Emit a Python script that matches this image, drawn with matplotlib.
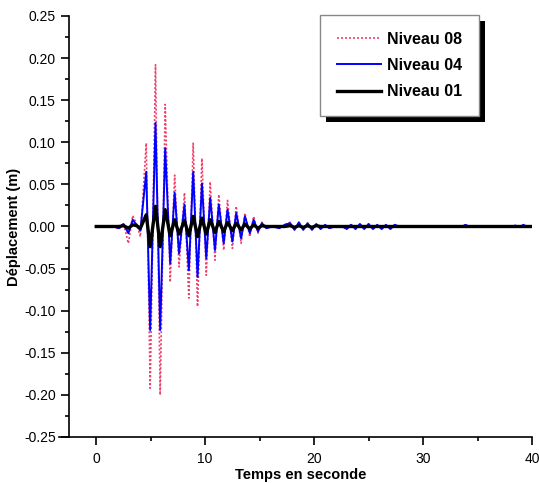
import matplotlib
matplotlib.use("Agg")
import matplotlib.pyplot as plt
from matplotlib.ticker import MultipleLocator, FormatStrFormatter
from matplotlib.patches import Rectangle

# Extrema (time in s, displacement in m)
time_s = [0.0, 1.6, 2.1, 2.5, 2.95, 3.35, 3.7, 4.05, 4.59, 4.95, 5.44, 5.87, 6.33, 6.79, 7.2, 7.6,
          8.1, 8.5, 8.9, 9.3, 9.7, 10.1, 10.46, 10.9, 11.25, 11.7, 12.05, 12.5, 12.85, 13.3, 13.65,
          14.1, 14.45, 14.85, 15.2, 15.6, 16.2, 16.8, 17.3, 17.8, 18.2, 18.6, 19.0, 19.4, 19.8, 20.2,
          20.6, 21.0, 21.4, 21.9, 22.6, 23.0, 23.4, 23.8, 24.2, 24.6, 25.0, 25.4, 25.8, 26.2, 26.6,
          27.0, 27.4, 27.8, 33.6, 33.9, 34.2, 38.2, 38.4, 38.7, 39.0, 39.2, 39.5, 40.0]

niveau08 = [0, 0, -0.003, 0.004, -0.020, 0.013, 0.003, -0.012, 0.099, -0.192, 0.192, -0.200, 0.145,
            -0.066, 0.061, -0.048, 0.040, -0.085, 0.099, -0.095, 0.081, -0.058, 0.053, -0.040, 0.038,
            -0.028, 0.031, -0.026, 0.024, -0.020, 0.016, -0.012, 0.012, -0.008, 0.005, -0.002, 0,
            -0.002, 0.002, 0.005, -0.004, 0.005, -0.004, 0.004, -0.004, 0.003, -0.003, 0.002, -0.002,
            0, 0, -0.003, 0.003, -0.003, 0.003, -0.003, 0.003, -0.003, 0.002, -0.003, 0.002, -0.003,
            0.002, 0, 0, 0.002, 0, 0, 0.002, 0, 0, 0.002, 0, 0]

niveau04 = [0, 0, -0.002, 0.003, -0.008, 0.008, 0.002, -0.005, 0.065, -0.123, 0.123, -0.123, 0.093,
            -0.044, 0.040, -0.032, 0.026, -0.052, 0.065, -0.060, 0.051, -0.038, 0.034, -0.028, 0.026,
            -0.020, 0.020, -0.018, 0.016, -0.014, 0.012, -0.008, 0.008, -0.006, 0.004, -0.002, 0,
            -0.002, 0.002, 0.004, -0.004, 0.005, -0.004, 0.004, -0.004, 0.003, -0.003, 0.002, -0.002,
            0, 0, -0.003, 0.002, -0.003, 0.003, -0.003, 0.003, -0.003, 0.002, -0.003, 0.002, -0.003,
            0.002, 0, 0, 0.002, 0, 0, 0.001, 0, 0, 0.002, 0, 0]

niveau01 = [0, 0, 0, 0.001, -0.002, 0.002, 0.001, -0.002, 0.014, -0.024, 0.024, -0.024, 0.020,
            -0.011, 0.008, -0.009, 0.007, -0.011, 0.012, -0.012, 0.010, -0.009, 0.008, -0.007, 0.006,
            -0.006, 0.005, -0.005, 0.004, -0.004, 0.003, -0.003, 0.002, -0.002, 0.001, 0, 0,
            0, 0, 0.001, -0.001, 0.001, -0.001, 0.001, -0.001, 0.001, 0, 0, 0,
            0, 0, 0, 0, 0, 0, 0, 0, 0, 0, 0, 0, 0,
            0, 0, 0, 0, 0, 0, 0, 0, 0, 0, 0, 0]

labels = ["Niveau 08", "Niveau 04", "Niveau 01"]

plt.rcParams['font.family'] = ['Liberation Sans', 'DejaVu Sans']
plt.rcParams['axes.unicode_minus'] = False

fig = plt.figure(figsize=(5.39, 4.83), dpi=100)
ax = fig.add_axes([69/539, 1-437/483, (532-69)/539, (437-16)/483])

ax.plot(time_s, niveau08, color='#f0406a', lw=1.2, ls=(0, (1.2, 1.2)), label=labels[0], zorder=2)
ax.plot(time_s, niveau04, color='#0000ff', lw=1.4, label=labels[1], zorder=3)
ax.plot(time_s, niveau01, color='black', lw=2.4, label=labels[2], zorder=4)

ax.set_xlim(-2.5, 40)
ax.set_ylim(-0.25, 0.25)
ax.xaxis.set_major_locator(MultipleLocator(10))
ax.xaxis.set_minor_locator(MultipleLocator(5))
ax.yaxis.set_major_locator(MultipleLocator(0.05))
ax.yaxis.set_minor_locator(MultipleLocator(0.025))
ax.yaxis.set_major_formatter(FormatStrFormatter('%.2f'))
ax.spines['top'].set_visible(False)
ax.spines['right'].set_visible(False)
for s in ('left', 'bottom'):
    ax.spines[s].set_linewidth(1.2)
ax.spines['bottom'].set_bounds(-3.4, 40)
ax.tick_params(which='major', direction='out', length=6, width=1.2, labelsize=10)
ax.tick_params(axis='x', which='major', pad=5)
ax.tick_params(axis='y', which='major', pad=3.5)
ax.tick_params(which='minor', direction='out', length=3, width=1.2)

ax.set_xlabel('Temps en seconde', fontsize=10.5, fontweight='bold', labelpad=1)
ax.set_ylabel('Déplacement (m)', fontsize=10.5, fontweight='bold', labelpad=2)

leg = ax.legend(loc='upper left', bbox_to_anchor=(320/539, 1-15/483), bbox_transform=fig.transFigure,
                borderaxespad=0, frameon=True, fancybox=False, shadow=False, framealpha=1.0,
                prop={'weight': 'bold', 'size': 11.5}, handlelength=2.75, handletextpad=0.4,
                labelspacing=0.7, borderpad=1.05)
leg.get_frame().set_edgecolor('#888888')
leg.get_frame().set_linewidth(1.0)
leg.set_zorder(6)

# Drop shadow of the legend box (6 px offset)
fig.canvas.draw()
bb = leg.get_frame().get_window_extent()
shadow = Rectangle((bb.x0 + 6, bb.y0 - 6), bb.width, bb.height, transform=None,
                   facecolor='black', edgecolor='none', zorder=5.5, clip_on=False)
ax.add_artist(shadow)

fig.savefig('out.png', dpi=100)
